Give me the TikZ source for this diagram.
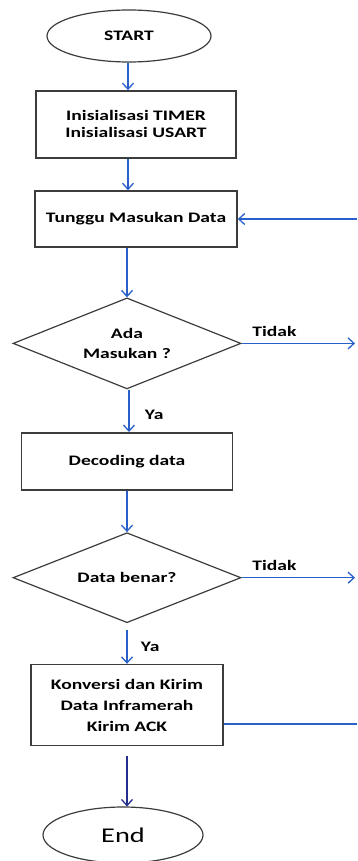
\documentclass[tikz,border=0pt]{standalone}
\usepackage{fontspec}
\setmainfont[FakeStretch=1.35]{Carlito}
\usetikzlibrary{positioning, shapes.geometric, arrows.meta}

\definecolor{flowblue}{RGB}{40,95,200}
\definecolor{flownavy}{RGB}{35,45,140}
\definecolor{edgegray}{RGB}{60,60,60}

\tikzset{
	term/.style={ellipse, draw=edgegray, line width=1.2pt, inner sep=0pt},
	proc/.style={rectangle, draw=edgegray, line width=1.6pt, align=center, inner sep=0pt},
	cond/.style={diamond, draw=edgegray, line width=1.2pt, align=center, inner sep=0pt, aspect=2.5},
	flow/.style={flowblue, line width=1.3pt, -{Straight Barb[length=6pt,width=11pt]}},
	edge/.style={flowblue, line width=1.3pt},
	tag/.style={text=black}
}

\begin{document}
\begin{tikzpicture}[x=1pt, y=1pt, font=\bfseries\fontsize{14.5}{17}\selectfont]
	\useasboundingbox (0,0) rectangle (357,-861);
	\node (start)[term, minimum width=164pt, minimum height=52pt] at (129,-36) {START};
	\node (init)[proc, minimum width=200pt, minimum height=67pt, below=27.5pt of start, xshift=7pt] {Inisialisasi TIMER\\Inisialisasi USART};
	\node (wait)[proc, minimum width=202pt, minimum height=56pt, below=31.5pt of init] {Tunggu Masukan Data};
	\node (ask)[cond, minimum width=228pt, minimum height=91pt, below=49.5pt of wait, xshift=-9pt, font=\bfseries\fontsize{14.5}{20}\selectfont] {Ada\\Masukan ?};
	\node (decode)[proc, minimum width=211pt, minimum height=57pt, below=42.5pt of ask] {Decoding data};
	\node (check)[cond, minimum width=228pt, minimum height=90pt, below=41.5pt of decode] {Data benar?};
	\node (send)[proc, minimum width=192pt, minimum height=81pt, below=40.5pt of check, font=\bfseries\fontsize{14.5}{21}\selectfont] {Konversi dan Kirim\\Data Inframerah\\Kirim ACK};
	\node (stop)[term, minimum width=160pt, minimum height=56pt, below=60pt of send, xshift=-4pt, font=\fontsize{21}{25}\selectfont] {End};

	\coordinate (back) at (wait.east -| 357,0);
	\coordinate (no1) at (ask.east -| 355,0);
	\coordinate (no2) at (check.east -| 355,0);
	\coordinate (loop) at (357,-724);

	\draw[flow] (start.south -| 128,0) -- (init.north -| 128,0);
	\draw[flow] (init.south -| 128,0) -- (wait.north -| 128,0);
	\draw[flow] (wait.south -| ask.north) -- (ask.north);
	\draw[flow] (ask.south -| 129,0) -- node[tag, right=12pt, pos=0.6]{Ya} (decode.north -| 129,0);
	\draw[flow] (decode.south -| check.north) -- (check.north);
	\draw[flow] ([yshift=-7pt]check.south) -- node[tag, right=10pt, pos=0.5]{Ya} (check.south |- send.north);
	\draw[flow, flownavy] ([yshift=-10pt]send.south) -- (send.south |- stop.north);
	\draw[flow] (ask.east) -- node[tag, above=3pt, pos=0.29]{Tidak} (no1);
	\draw[flow] (check.east) -- node[tag, above=3pt, pos=0.29]{Tidak} (no2);
	\draw[flow] (back) -- (wait.east);
	\draw[edge] (send.east |- loop) -- (loop);
\end{tikzpicture}
\end{document}
